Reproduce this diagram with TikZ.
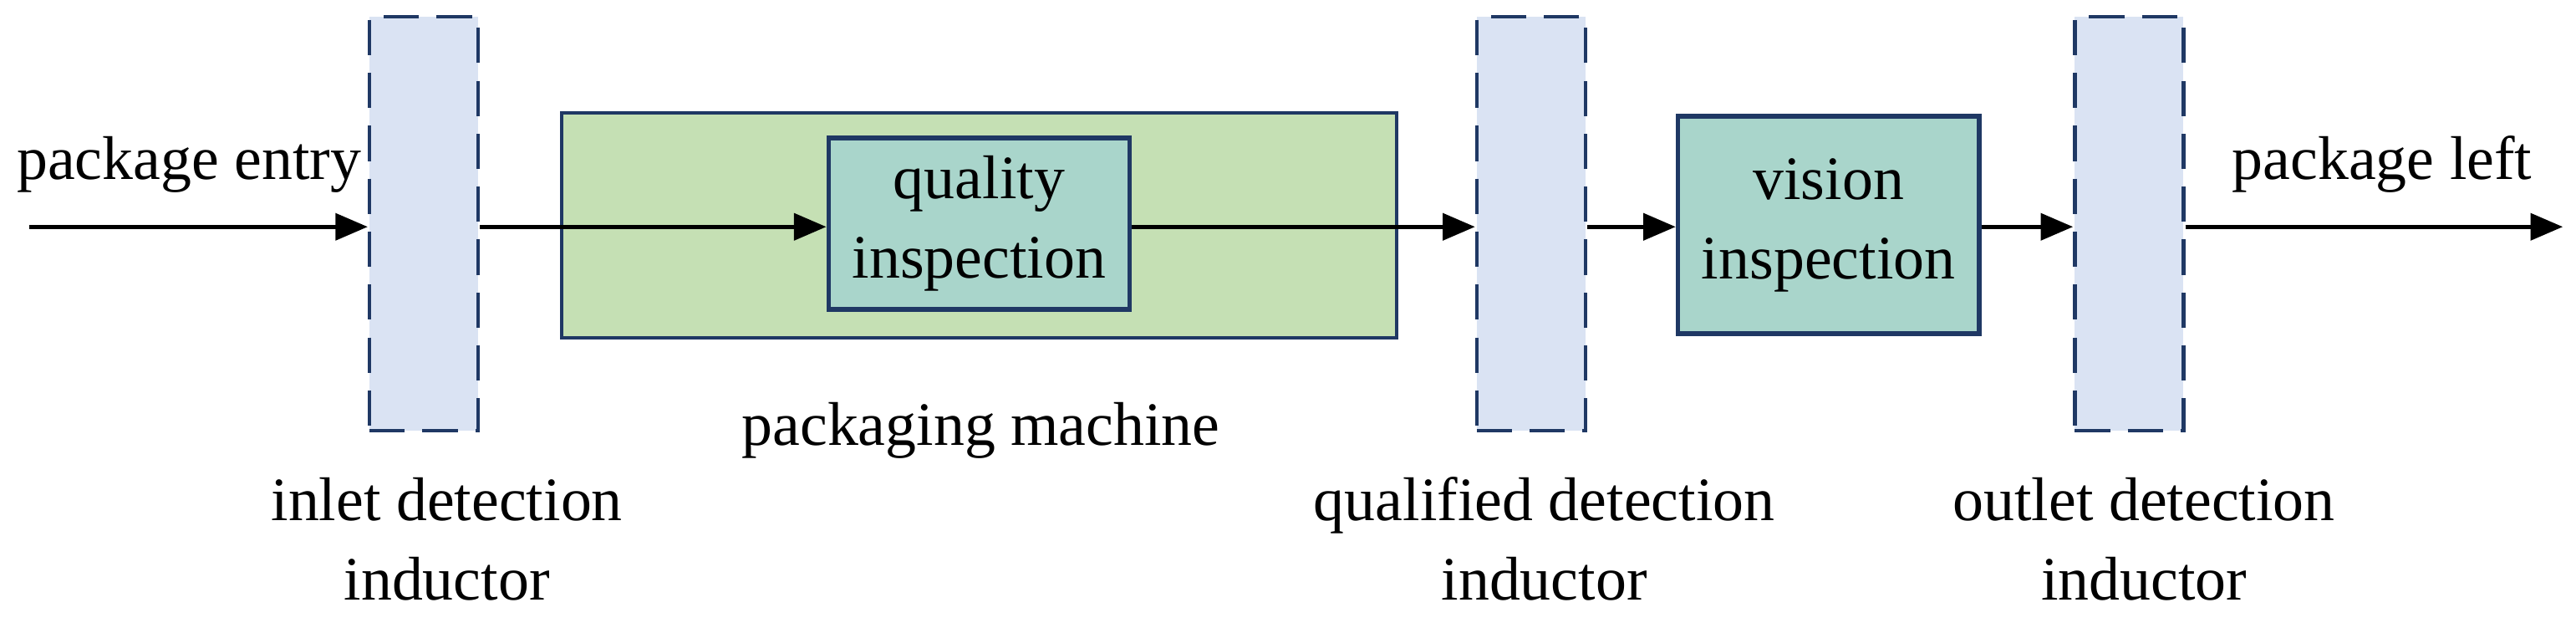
\documentclass[tikz,border=0pt]{standalone}
\usepackage{fontspec}
\setmainfont{Liberation Serif}
\usetikzlibrary{positioning,arrows.meta}
\definecolor{navy}{HTML}{1F3864}
\definecolor{sensorfill}{HTML}{DAE3F3}
\definecolor{machinefill}{HTML}{C5E0B4}
\definecolor{checkfill}{HTML}{A9D5CB}
\tikzset{
  sensor/.style={draw=navy, fill=sensorfill, dashed, dash pattern=on 12pt off 6pt, line width=1.2pt, minimum width=1.30cm, minimum height=4.95cm, inner sep=0pt},
  check/.style={draw=navy, fill=checkfill, line width=1.6pt, minimum width=3.6cm, minimum height=2.07cm, align=center, inner sep=0pt},
  flow/.style={-{Triangle[length=11pt,width=9pt]}, line width=1.5pt},
  lbl/.style={align=center, inner sep=0pt}
}
\begin{document}
\begin{tikzpicture}[x=0.01966cm, y=-0.01966cm, font=\fontsize{21}{27}\selectfont]
  \useasboundingbox (0,0) rectangle (1568,382);
  % sensors
  \node[sensor] (inlet) at (258,136) {};
  \node[sensor] (qual) at (932,136) {};
  \node[sensor] (outlet) at (1296,136) {};
  % machine
  \node[draw=navy, fill=machinefill, line width=1.2pt, minimum width=9.99cm, minimum height=2.69cm] (machine) at (596,137) {};
  \node[check, minimum height=2.05cm] (quality) at (596,136) {quality\\inspection};
  \node[check, minimum height=2.6cm] (vision) at (1113,137) {vision\\inspection};
  % ends
  \coordinate (start) at (18,138);
  \coordinate (stop) at (1560,138);
  \draw[flow] (start) -- (inlet.west |- start);
  \draw[flow] (inlet.east |- start) -- (quality.west |- start);
  \draw[flow] (quality.east |- start) -- (qual.west |- start);
  \draw[flow] (qual.east |- start) -- (vision.west |- start);
  \draw[flow] (vision.east |- start) -- (outlet.west |- start);
  \draw[flow] (outlet.east |- start) -- (stop);
  % labels
  \node[lbl] (entry) at (115,100) {package entry};
  \node[lbl] (left) at (1450,100) {package left};
  \node[lbl] (machname) at (597,262) {packaging machine};
  \node[lbl] (inletname) at (272,328) {inlet detection\\inductor};
  \node[lbl] (qualname) at (940,328) {qualified detection\\inductor};
  \node[lbl] (outletname) at (1305,328) {outlet detection\\inductor};
\end{tikzpicture}
\end{document}
